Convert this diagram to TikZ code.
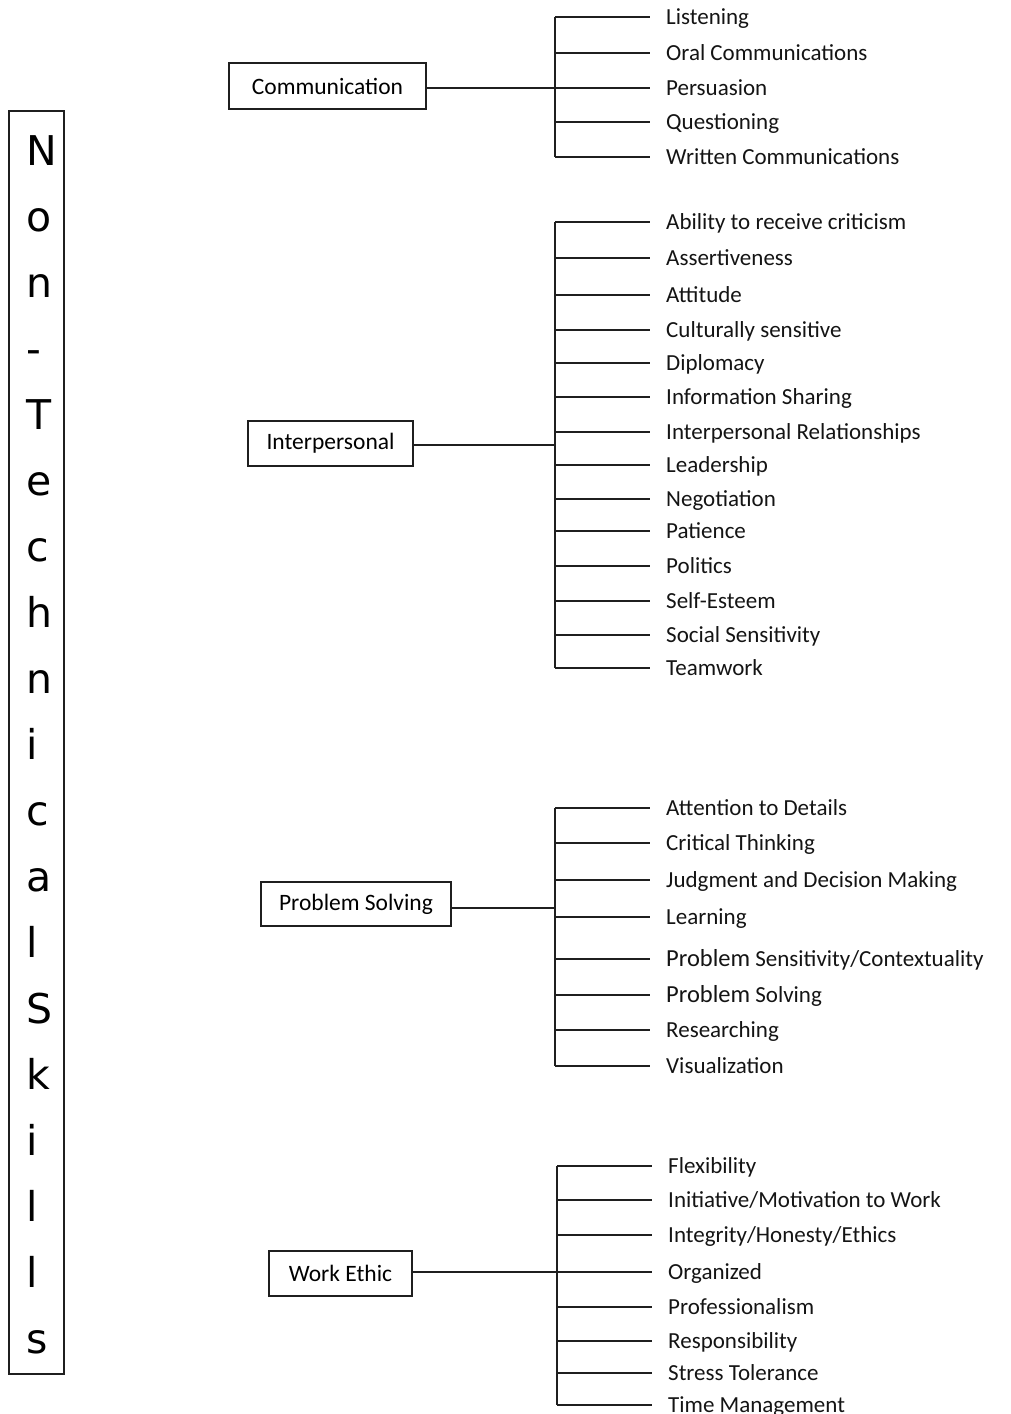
\documentclass[tikz,border=0pt]{standalone}
\usepackage{fontspec}
\setmainfont{Carlito}
\newfontfamily\titlefont{DejaVu Sans}
\begin{document}
\begin{tikzpicture}[x=1pt,y=-1pt,
  ink/.style={draw=black!88,line width=1.7pt},
  catbox/.style={ink,rectangle,minimum height=46pt,font=\fontsize{23.5}{26}\selectfont,inner xsep=0pt},
  item/.style={anchor=west,inner xsep=16pt,inner ysep=0pt,text height=14.8pt,text depth=0pt,
    font=\fontsize{23}{26}\selectfont,text=black!92},
  letter/.style={anchor=base west,inner sep=0pt,font=\titlefont\fontsize{41}{41}\selectfont}]
\useasboundingbox (0,0) rectangle (1010,1414);

% vertical title
\node[ink,rectangle,minimum width=55pt,minimum height=1263pt,anchor=north west,inner sep=0pt] (title) at (8,110) {};
\foreach \ch [count=\k from 0] in {N,o,n,-,T,e,c,h,n,i,c,a,l,S,k,i,l,l,s}
  \node[letter] (t\k) at (26,165+66*\k) {\ch};

% category boxes
\node[catbox,minimum width=197pt] (comm) at (327.5,86) {Communication};
\node[catbox,minimum width=165pt,minimum height=45pt] (inter) at (330.5,443.5) {Interpersonal};
\node[catbox,minimum width=190pt,minimum height=44pt] (prob) at (356,904) {Problem Solving};
\node[catbox,minimum width=143pt,minimum height=45pt] (work) at (340.5,1273.5) {Work Ethic};

% Communication
\foreach \y/\t [count=\k] in {17/Listening,53/Oral Communications,88/Persuasion,122/Questioning,157/Written Communications}{
  \node[item] (c\k) at (650,\y) {\t};
  \coordinate (cj\k) at (555,\y);
  \draw[ink] (cj\k) -- (c\k.west);
}
\draw[ink] (cj1) -- (cj5);
\coordinate (cj0) at (555,88);
\draw[ink] (comm.east |- cj0) -- (cj0);

% Interpersonal
\foreach \y/\t [count=\k] in {222/Ability to receive criticism,258/Assertiveness,295/Attitude,330/Culturally sensitive,
  363/Diplomacy,397/Information Sharing,432/Interpersonal Relationships,465/Leadership,499/Negotiation,
  531/Patience,566/Politics,601/Self-Esteem,635/Social Sensitivity,668/Teamwork}{
  \node[item] (i\k) at (650,\y) {\t};
  \coordinate (ij\k) at (555,\y);
  \draw[ink] (ij\k) -- (i\k.west);
}
\draw[ink] (ij1) -- (ij14);
\coordinate (ij0) at (555,445);
\draw[ink] (inter.east |- ij0) -- (ij0);

% Problem Solving
\foreach \y/\t [count=\k] in {808/Attention to Details,843/Critical Thinking,880/Judgment and Decision Making,917/Learning,
  959/{{\fontsize{24.5}{26}\selectfont Problem} Sensitivity/Contextuality},995/{{\fontsize{24.5}{26}\selectfont Problem} Solving},
  1030/Researching,1066/Visualization}{
  \node[item] (p\k) at (650,\y) {\t};
  \coordinate (pj\k) at (555,\y);
  \draw[ink] (pj\k) -- (p\k.west);
}
\draw[ink] (pj1) -- (pj8);
\coordinate (pj0) at (555,908);
\draw[ink] (prob.east |- pj0) -- (pj0);

% Work Ethic
\foreach \y/\t [count=\k] in {1166/Flexibility,1200/{Initiative/Motivation to Work},1235/{Integrity/Honesty/Ethics},
  1272/Organized,1307/Professionalism,1341/Responsibility,1373/Stress Tolerance,1405/Time Management}{
  \node[item] (w\k) at (652,\y) {\t};
  \coordinate (wj\k) at (557,\y);
  \draw[ink] (wj\k) -- (w\k.west);
}
\draw[ink] (wj1) -- (wj8);
\coordinate (wj0) at (557,1272);
\draw[ink] (work.east |- wj0) -- (wj0);
\end{tikzpicture}
\end{document}
